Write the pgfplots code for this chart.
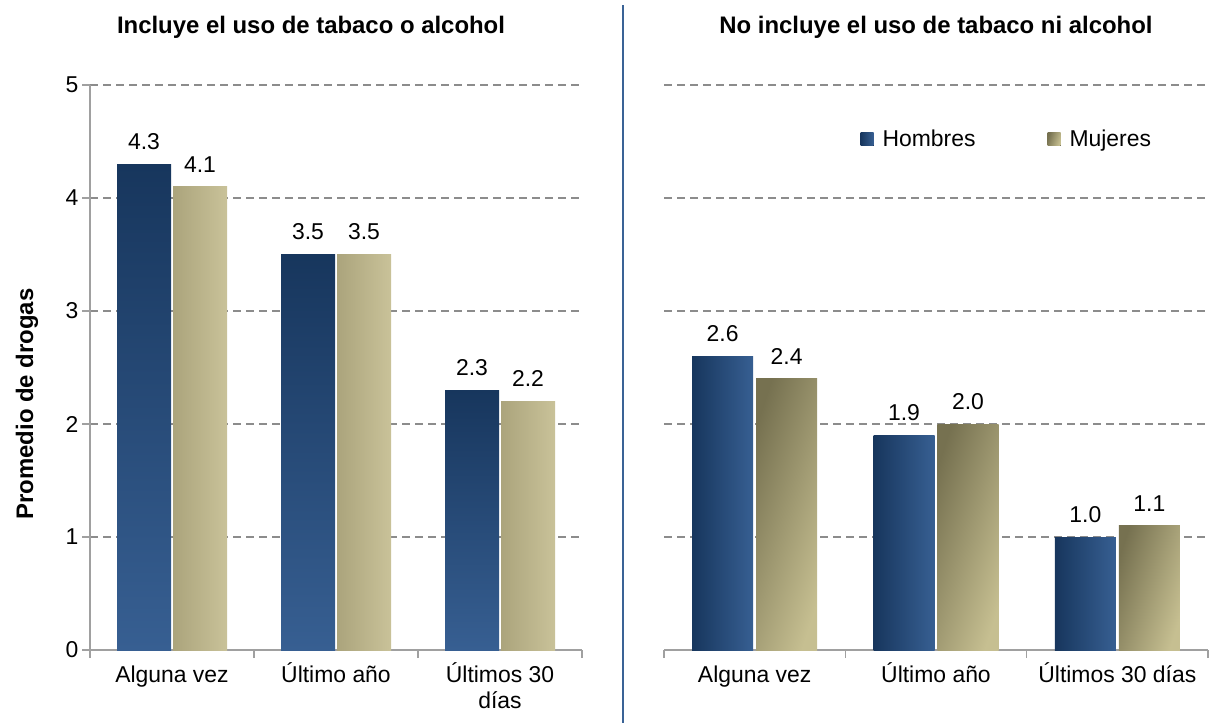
\documentclass[border=0pt]{standalone}
\usepackage{fontspec}
\setmainfont{Liberation Sans}
\usepackage{pgfplots}
\pgfplotsset{compat=1.18}
\definecolor{navyD}{HTML}{17365D}
\definecolor{navyM}{HTML}{1C3C66}
\definecolor{navyL}{HTML}{375F92}
\definecolor{oliveD}{HTML}{767150}
\definecolor{oliveL}{HTML}{C6BF91}
\definecolor{oliveM}{HTML}{ABA47C}
\definecolor{oliveN}{HTML}{C9C299}
\definecolor{gridc}{HTML}{8C8C8C}
\definecolor{axisc}{HTML}{A0A0A0}
\definecolor{divc}{HTML}{3A6396}
\newcommand{\fs}{\fontsize{23}{26}\selectfont}
\newcommand{\fb}{\bfseries\fontsize{24}{28}\selectfont}
\pgfplotsset{
 mybase/.style={
  scale only axis, height=565bp,
  ymin=0, ymax=5, xmin=0.5, xmax=3.5,
  ytick={0,1,2,3,4,5},
  axis lines*=left,
  ymajorgrids, grid style={gridc, line width=1.2bp, dash pattern=on 8bp off 5bp},
  axis line style={axisc, line width=1.2bp},
  tick style={axisc, line width=1.2bp},
  tick align=outside, major tick length=8bp,
  font=\fs,
  tick label style={font=\fs, black},
  /pgf/number format/assume math mode=true,
  xtick={0.5,1.5,2.5,3.5}, xticklabels={},
  extra x ticks={1,2,3},
  extra x tick style={major tick length=0pt, grid=none, xticklabel style={align=center, anchor=north, yshift=-9bp}},
  ybar,
  nodes near coords={\pgfmathprintnumber[fixed,fixed zerofill,precision=1]{\pgfplotspointmeta}},
  every node near coord/.append style={font=\fs, black, yshift=11bp},
 },
 hL/.style={ybar, bar width=54bp, bar shift=-28bp, draw=none, top color=navyD, middle color=navyM, bottom color=navyL},
 mL/.style={ybar, bar width=54bp, bar shift=28bp, draw=none, left color=oliveM, right color=oliveN},
 hR/.style={ybar, bar width=61bp, bar shift=-32bp, draw=none, left color=navyD, middle color=navyM, right color=navyL},
 mR/.style={ybar, bar width=61bp, bar shift=32bp, draw=none, top color=oliveD, bottom color=oliveL, shading angle=72},
}
\begin{document}
\begin{tikzpicture}
\begin{axis}[mybase,
  at={(90bp,-650bp)}, anchor=south west, width=492bp,
  extra x tick labels={\vphantom{Ú}Alguna vez, \vphantom{Ú}Último año, {Últimos 30\\días}},
]
\addplot[hL] coordinates {(1,4.3)};
\addplot[hL] coordinates {(2,3.5)};
\addplot[hL] coordinates {(3,2.3)};
\addplot[mL] coordinates {(1,4.1)};
\addplot[mL] coordinates {(2,3.5)};
\addplot[mL] coordinates {(3,2.2)};
\end{axis}
\begin{axis}[mybase,
  at={(664bp,-650bp)}, anchor=south west, width=544bp,
  extra x tick labels={\vphantom{Ú}Alguna vez, Último año, Últimos 30 días},
  y axis line style={draw=none}, ytick style={draw=none}, yticklabels={},
  legend style={draw=none, fill=none, inner sep=0pt, at={(rel axis cs:0.361,0.904)}, anchor=west, legend columns=2, font=\fs,
    /tikz/every odd column/.append style={column sep=7bp},
    /tikz/every even column/.append style={column sep=70bp}},
  legend image code/.code={\fill[#1] (0bp,-6.5bp) rectangle (13bp,6.5bp);},
]
\addplot[hR] coordinates {(1,2.6)};
\addlegendentry{Hombres}
\addplot[mR] coordinates {(1,2.4)};
\addlegendentry{Mujeres}
\addplot[hR, forget plot] coordinates {(2,1.9)};
\addplot[hR, forget plot] coordinates {(3,1.0)};
\addplot[mR, forget plot] coordinates {(2,2.0)};
\addplot[mR, forget plot] coordinates {(3,1.1)};
\end{axis}
\draw[divc, line width=2.5bp] (623bp,-5bp) -- (623bp,-723bp);
\node[font=\fb, anchor=base] at (311bp,-33bp) {Incluye el uso de tabaco o alcohol};
\node[font=\fb, anchor=base] at (936bp,-33bp) {No incluye el uso de tabaco ni alcohol};
\node[font=\fb, anchor=base, rotate=90] at (33bp,-404bp) {Promedio de drogas};
\pgfresetboundingbox
\path (0bp,0bp) rectangle (1210bp,-723bp);
\end{tikzpicture}
\end{document}
